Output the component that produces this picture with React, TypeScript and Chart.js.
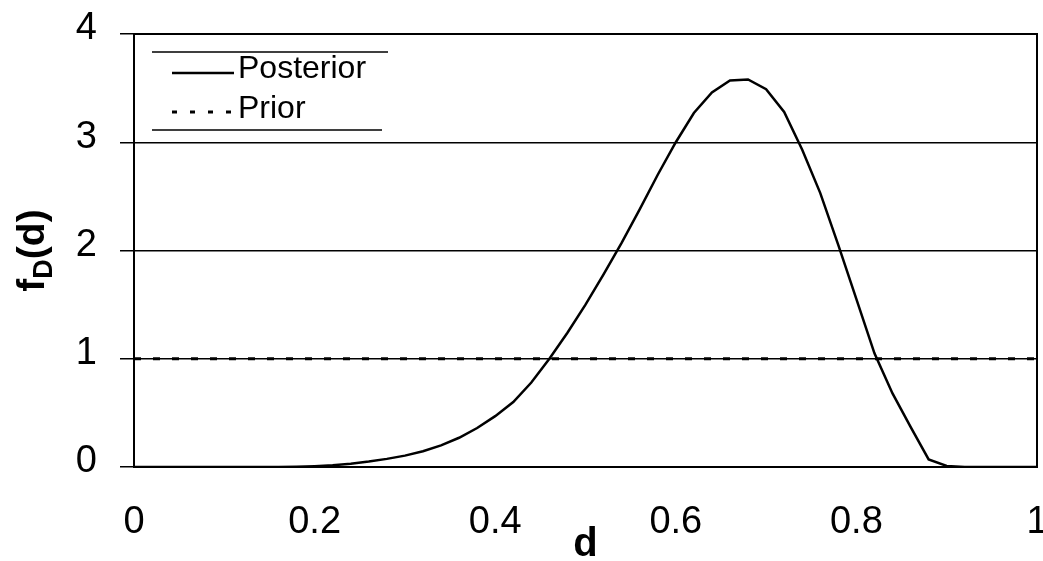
import React, { useEffect, useRef } from 'react';
import { Chart, registerables } from 'chart.js';

Chart.register(...registerables);

// ---- data ----
const dGrid = [
  0, 0.02, 0.04, 0.06, 0.08, 0.1, 0.12, 0.14, 0.16, 0.18,
  0.2, 0.22, 0.24, 0.26, 0.28, 0.3, 0.32, 0.34, 0.36, 0.38,
  0.4, 0.42, 0.44, 0.46, 0.48, 0.5, 0.52, 0.54, 0.56, 0.58,
  0.6, 0.62, 0.64, 0.66, 0.68, 0.7, 0.72, 0.74, 0.76, 0.78,
  0.8, 0.82, 0.84, 0.86, 0.88, 0.9, 0.92, 0.94, 0.96, 0.98, 1.0,
];
const posteriorValues = [
  0, 0, 0, 0, 0, 0, 0, 0, 0.001, 0.003,
  0.008, 0.016, 0.03, 0.05, 0.075, 0.105, 0.145, 0.2, 0.27, 0.36,
  0.47, 0.6, 0.78, 1.0, 1.24, 1.5, 1.78, 2.07, 2.38, 2.7,
  3.0, 3.27, 3.46, 3.57, 3.58, 3.49, 3.28, 2.93, 2.53, 2.05,
  1.55, 1.05, 0.68, 0.37, 0.07, 0.01, 0, 0, 0, 0, 0,
];
const priorD = [0, 1];
const priorValues = [1, 1];
const seriesLabels = ['Posterior', 'Prior'];
const xTickLabels = ['0', '0.2', '0.4', '0.6', '0.8', '1'];
const yTickLabels = ['0', '1', '2', '3', '4'];
const xTitle = 'd';
const yTitleBase = 'f';
const yTitleSub = 'D';
const yTitleArg = '(d)';

const FONT = "'Liberation Sans', Arial, Helvetica, sans-serif";

const framePlugin = {
  id: 'frame',
  afterDatasetsDraw(chart: any) {
    const { ctx, chartArea: a } = chart;
    ctx.save();
    ctx.strokeStyle = '#000';
    ctx.lineWidth = 2;
    ctx.strokeRect(a.left, a.top, a.right - a.left, a.bottom - a.top);
    ctx.restore();
  },
};

const yTitlePlugin = {
  id: 'yTitle',
  afterDraw(chart: any) {
    const { ctx, chartArea: a } = chart;
    const cy = (a.top + a.bottom) / 2;
    const big = `bold 39px ${FONT}`;
    const small = `bold 27px ${FONT}`;
    const parts = [
      { t: yTitleBase, f: big, dy: 0 },
      { t: yTitleSub, f: small, dy: 8 },
      { t: yTitleArg, f: big, dy: 0 },
    ];
    ctx.save();
    ctx.translate(44, cy);
    ctx.rotate(-Math.PI / 2);
    ctx.fillStyle = '#000';
    ctx.textBaseline = 'alphabetic';
    ctx.textAlign = 'left';
    let total = 0;
    const widths = parts.map((p) => {
      ctx.font = p.f;
      const w = ctx.measureText(p.t).width;
      total += w;
      return w;
    });
    let x = -total / 2;
    parts.forEach((p, i) => {
      ctx.font = p.f;
      ctx.fillText(p.t, x, p.dy);
      x += widths[i];
    });
    ctx.restore();
  },
};

const legendPlugin = {
  id: 'boxLegend',
  afterDraw(chart: any) {
    const { ctx, chartArea: a } = chart;
    const left = a.left + 18;
    const right = a.left + 254;
    const top = a.top + 18;
    const bottom = a.top + 96;
    ctx.save();
    ctx.strokeStyle = '#000';
    ctx.lineWidth = 1.5;
    ctx.beginPath();
    ctx.moveTo(left, top);
    ctx.lineTo(right, top);
    ctx.moveTo(left, bottom);
    ctx.lineTo(right - 6, bottom);
    ctx.stroke();

    const sx1 = a.left + 38;
    const sx2 = a.left + 100;
    const rows = [
      { y: a.top + 39, base: a.top + 44, dash: [] as number[], w: 2.5 },
      { y: a.top + 78, base: a.top + 84, dash: [5, 13], w: 3 },
    ];
    ctx.font = `32px ${FONT}`;
    ctx.fillStyle = '#000';
    ctx.textBaseline = 'alphabetic';
    ctx.textAlign = 'left';
    rows.forEach((r, i) => {
      ctx.beginPath();
      ctx.setLineDash(r.dash);
      ctx.lineWidth = r.w;
      ctx.moveTo(sx1, r.y);
      ctx.lineTo(sx2, r.y);
      ctx.stroke();
      ctx.setLineDash([]);
      ctx.fillText(chart.data.datasets[i].label, a.left + 104, r.base);
    });
    ctx.restore();
  },
};

export default function App() {
  const canvasRef = useRef<HTMLCanvasElement | null>(null);

  useEffect(() => {
    if (!canvasRef.current) return;
    const chart = new Chart(canvasRef.current, {
      type: 'line',
      data: {
        datasets: [
          {
            label: seriesLabels[0],
            data: dGrid.map((d, i) => ({ x: d, y: posteriorValues[i] })),
            borderColor: '#000',
            borderWidth: 2.5,
            pointRadius: 0,
            tension: 0,
            fill: false,
          },
          {
            label: seriesLabels[1],
            data: priorD.map((d, i) => ({ x: d, y: priorValues[i] })),
            borderColor: '#000',
            borderWidth: 3,
            borderDash: [7, 12],
            pointRadius: 0,
            tension: 0,
            fill: false,
          },
        ],
      },
      options: {
        responsive: false,
        animation: false,
        layout: { padding: { top: 34, right: 6, left: 0, bottom: 0 } },
        plugins: {
          legend: { display: false },
          tooltip: { enabled: false },
          title: { display: false },
        },
        scales: {
          x: {
            type: 'linear',
            min: 0,
            max: 1,
            grid: { display: false, drawTicks: false },
            border: { display: false },
            ticks: {
              stepSize: 0.2,
              color: '#000',
              font: { size: 38, family: FONT },
              padding: 33,
              maxRotation: 0,
              callback: (_v: any, i: number) => xTickLabels[i],
            },
            title: {
              display: true,
              text: xTitle,
              color: '#000',
              font: { size: 40, weight: 'bold', family: FONT, lineHeight: 0.8 },
              padding: { top: 0, bottom: 0 },
            },
            afterFit: (scale: any) => {
              scale.height = 94;
              scale.paddingLeft = 0;
              scale.paddingRight = 0;
            },
          },
          y: {
            type: 'linear',
            min: 0,
            max: 4,
            grid: {
              color: '#000',
              lineWidth: 1.5,
              drawTicks: true,
              tickLength: 14,
            },
            border: { display: false },
            ticks: {
              stepSize: 1,
              color: '#000',
              font: { size: 38, family: FONT },
              padding: 23,
              labelOffset: -5,
              callback: (_v: any, i: number) => yTickLabels[i],
            },
            afterFit: (scale: any) => {
              scale.width = 134;
              scale.paddingTop = 0;
              scale.paddingBottom = 0;
            },
          },
        },
      } as any,
      plugins: [framePlugin, yTitlePlugin, legendPlugin],
    });
    return () => chart.destroy();
  }, []);

  return (
    <div style={{ position: 'absolute', left: 0, top: 0, width: 1043, height: 561, background: '#fff' }}>
      <canvas ref={canvasRef} width={1043} height={561} />
    </div>
  );
}
